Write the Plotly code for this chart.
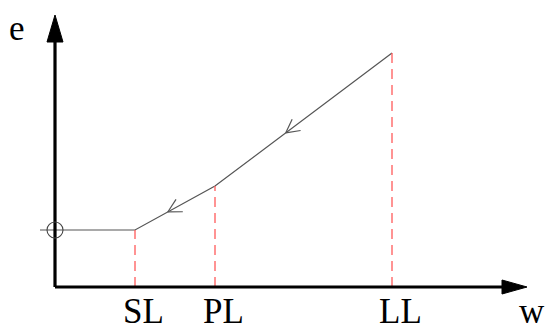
import plotly.graph_objects as go
import math

# ---- data (abstract units) ----
w_points = [-0.1875, 1.0, 2.0, 4.2125]      # start, SL, PL, LL
e_points = [1.14, 1.14, 2.02, 4.68]
limit_labels = ["SL", "PL", "LL"]
limit_w = [1.0, 2.0, 4.2125]
limit_e = [1.14, 2.02, 4.68]
axis_labels = ["e", "w"]

W, H = 547, 327
XR = [-0.6875, 6.15]
YR = [-0.8, 5.74]
sx = W / (XR[1] - XR[0])
sy = H / (YR[1] - YR[0])

def to_px(w, e):
    return ((w - XR[0]) * sx, (YR[1] - e) * sy)

def to_data(px, py):
    return (px / sx + XR[0], YR[1] - py / sy)

fig = go.Figure()

# main curve
fig.add_trace(go.Scatter(x=w_points, y=e_points, mode="lines",
                         line=dict(color="#555555", width=1.2),
                         hoverinfo="skip", showlegend=False))

shapes = []
# red dashed verticals
for lw, le in zip(limit_w, limit_e):
    shapes.append(dict(type="line", xref="x", yref="y", x0=lw, x1=lw, y0=0, y1=le,
                       line=dict(color="#ff5a5a", width=1.3, dash="10px,6px")))

# axes
x_tip = to_data(527, 0)[0]
x_base = to_data(502, 0)[0]
y_tip = to_data(0, 15)[1]
y_base = to_data(0, 42)[1]
shapes.append(dict(type="line", xref="x", yref="y", x0=0, x1=x_base, y0=0, y1=0,
                   line=dict(color="black", width=3.2)))
shapes.append(dict(type="line", xref="x", yref="y", x0=0, x1=0, y0=0, y1=y_base,
                   line=dict(color="black", width=3.2)))
hw = 8 / sx
hh = 7 / sy
shapes.append(dict(type="path", xref="x", yref="y",
                   path=f"M {-hw} {y_base} L 0 {y_tip} L {hw} {y_base} Z",
                   fillcolor="black", line=dict(color="black", width=1)))
shapes.append(dict(type="path", xref="x", yref="y",
                   path=f"M {x_base} {-hh} L {x_tip} 0 L {x_base} {hh} Z",
                   fillcolor="black", line=dict(color="black", width=1)))

# circle at the start
cr_w = 8 / sx
cr_e = 8 / sy
shapes.append(dict(type="circle", xref="x", yref="y",
                   x0=-cr_w, x1=cr_w, y0=e_points[0] - cr_e, y1=e_points[0] + cr_e,
                   line=dict(color="#444444", width=1.1)))

# open chevron arrowheads along sloped segments
def chevron(i, frac):
    x0, y0 = to_px(w_points[i + 1], e_points[i + 1])
    x1, y1 = to_px(w_points[i], e_points[i])
    tx, ty = x0 + (x1 - x0) * frac, y0 + (y1 - y0) * frac
    ang = math.atan2(y1 - y0, x1 - x0)
    L = 15
    for s in (-1, 1):
        a = ang + math.pi + s * math.radians(28)
        px, py = tx + L * math.cos(a), ty + L * math.sin(a)
        d0 = to_data(tx, ty)
        d1 = to_data(px, py)
        shapes.append(dict(type="line", xref="x", yref="y", x0=d0[0], y0=d0[1],
                           x1=d1[0], y1=d1[1], line=dict(color="#555555", width=1.2)))

chevron(1, 0.59)
chevron(2, 0.6)

fig.update_layout(shapes=shapes)

font = dict(family="Liberation Serif, Times New Roman, serif", size=35, color="black")
annotations = []
for lab, lw in zip(limit_labels, limit_w):
    annotations.append(dict(x=lw, y=0, xref="x", yref="y", text=lab, showarrow=False,
                            xshift=8, yshift=-24, font=font, yanchor="middle"))
annotations.append(dict(x=to_data(17, 0)[0], y=to_data(0, 28)[1], xref="x", yref="y",
                        text=axis_labels[0], showarrow=False, font=font))
annotations.append(dict(x=to_data(547, 0)[0], y=to_data(0, 311)[1], xref="x", yref="y",
                        text=axis_labels[1], showarrow=False, font=font,
                        xanchor="right"))
fig.update_layout(annotations=annotations)

fig.update_layout(width=W, height=H, margin=dict(l=0, r=0, t=0, b=0),
                  paper_bgcolor="white", plot_bgcolor="white",
                  xaxis=dict(range=XR, visible=False, fixedrange=True),
                  yaxis=dict(range=YR, visible=False, fixedrange=True))

fig.write_html("out.html")
